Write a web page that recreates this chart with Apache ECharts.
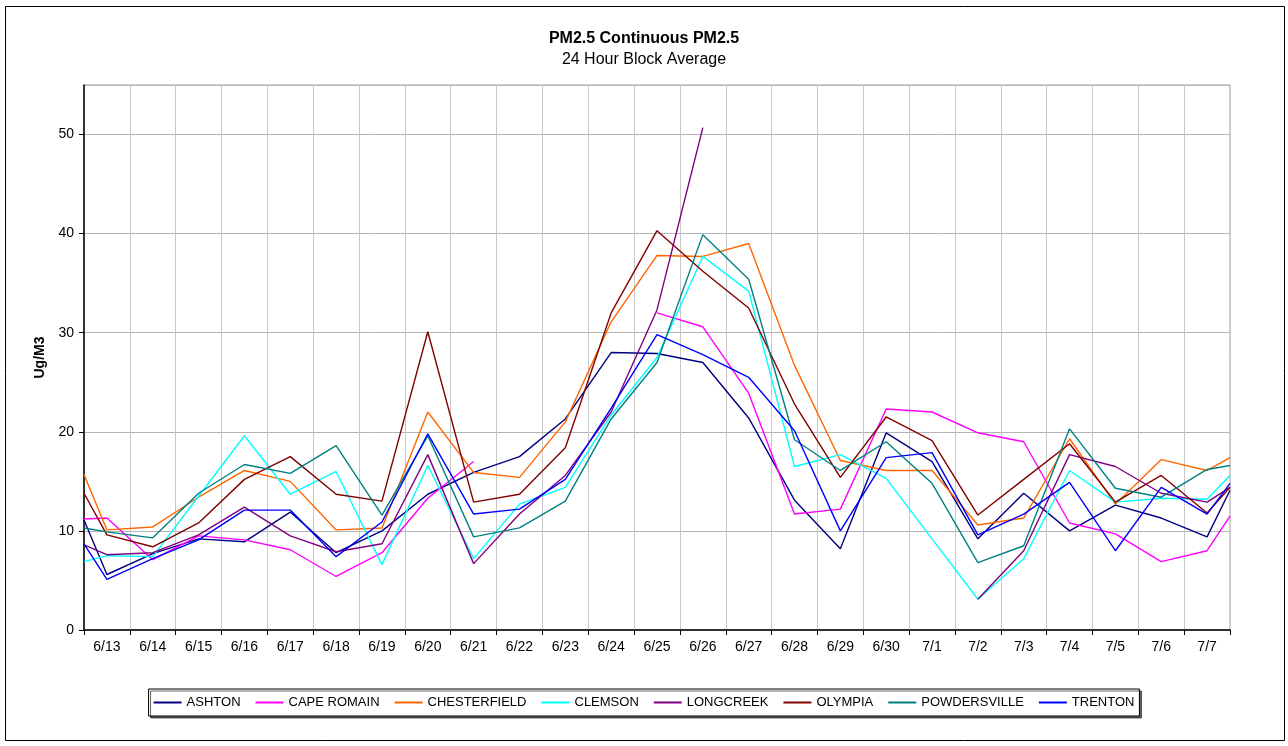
<!DOCTYPE html>
<html>
<head>
<meta charset="utf-8">
<script src="https://cdn.jsdelivr.net/npm/echarts@6/dist/echarts.min.js"></script>
<style>
  html, body { margin: 0; padding: 0; background: #fff; }
  #chart { width: 1288px; height: 746px; }
</style>
</head>
<body>
<div id="chart"></div>
<script>
// Categories (days)
const categories = ['6/13','6/14','6/15','6/16','6/17','6/18','6/19','6/20','6/21','6/22','6/23','6/24','6/25','6/26','6/27','6/28','6/29','6/30','7/1','7/2','7/3','7/4','7/5','7/6','7/7'];
const yTicks = [0, 10, 20, 30, 40, 50];

// Each series: [left edge value, 6/13 ... 7/7, right edge value]; null = no data
const ashton       = [11.1, 5.6, 7.7, 9.2, 8.9, 11.9, 7.8, 10.0, 13.7, 15.9, 17.5, 21.3, 28.0, 27.9, 27.0, 21.4, 13.1, 8.2, 19.9, 17.0, 9.2, 13.8, 10.0, 12.6, 11.3, 9.4, 14.1];
const capeRomain   = [11.2, 11.3, 7.1, 9.5, 9.1, 8.1, 5.4, 7.8, 13.3, 17.0, null, null, null, 32.0, 30.6, 23.9, 11.7, 12.2, 22.3, 22.0, 19.9, 19.0, 10.8, 9.7, 6.9, 8.0, 11.5];
const chesterfield = [15.7, 10.1, 10.4, 13.4, 16.1, 15.0, 10.1, 10.3, 22.0, 15.9, 15.4, 21.0, 31.1, 37.8, 37.7, 39.0, 26.7, 17.1, 16.1, 16.1, 10.6, 11.3, 19.3, 12.7, 17.2, 16.1, 17.4];
const clemson      = [6.9, 7.5, 7.4, 13.5, 19.6, 13.7, 16.0, 6.6, 16.6, 7.2, 12.7, 14.4, 21.7, 27.5, 37.7, 34.2, 16.5, 17.7, 15.3, 9.2, 3.1, 7.2, 16.1, 12.9, 13.3, 13.2, 15.6];
const longcreek    = [8.6, 7.6, 7.8, 9.6, 12.4, 9.5, 7.9, 8.7, 17.7, 6.7, 11.7, 15.6, 22.0, 32.3, 50.7, null, null, null, null, null, 3.1, 8.0, 17.7, 16.5, 13.8, 12.9, 14.4];
const olympia      = [13.8, 9.6, 8.4, 10.8, 15.2, 17.5, 13.7, 13.0, 30.1, 12.9, 13.7, 18.4, 32.0, 40.3, 36.2, 32.5, 22.8, 15.4, 21.5, 19.1, 11.6, 15.2, 18.8, 12.9, 15.6, 11.8, 14.4];
const powdersville = [10.3, 9.9, 9.3, 13.8, 16.7, 15.8, 18.6, 11.6, 19.6, 9.4, 10.3, 13.0, 21.3, 27.0, 39.9, 35.4, 19.2, 16.1, 19.0, 14.8, 6.8, 8.5, 20.3, 14.3, 13.4, 16.2, 16.6];
const trenton      = [8.7, 5.1, 7.2, 9.1, 12.1, 12.1, 7.4, 10.9, 19.8, 11.7, 12.2, 15.2, 22.4, 29.8, 27.8, 25.5, 20.1, 10.0, 17.4, 17.9, 9.6, 11.7, 14.9, 8.0, 14.4, 11.7, 14.8];

const seriesNames  = ['ASHTON','CAPE ROMAIN','CHESTERFIELD','CLEMSON','LONGCREEK','OLYMPIA','POWDERSVILLE','TRENTON'];
const seriesValues = [ashton, capeRomain, chesterfield, clemson, longcreek, olympia, powdersville, trenton];
const seriesColors = ['#000080','#FF00FF','#FF6600','#00FFFF','#800080','#800000','#008080','#0000FF'];

// x positions: left plot edge, each category centre, right plot edge
const positions = [-0.5].concat(categories.map((c, i) => i), [categories.length - 0.5]);

const chart = echarts.init(document.getElementById('chart'));
const font = 'Liberation Sans, Arial, sans-serif';

const option = {
  animation: false,
  backgroundColor: '#fff',
  textStyle: { fontFamily: font },
  graphic: [{
    type: 'rect', left: 5, top: 6, z: -10, silent: true,
    shape: { width: 1279, height: 734 },
    style: { fill: '#fff', stroke: '#000', lineWidth: 1 }
  }],
  title: {
    text: 'PM2.5 Continuous PM2.5',
    subtext: '24 Hour Block Average',
    left: 'center', top: 26, itemGap: 5,
    textStyle: { fontFamily: font, fontSize: 16, fontWeight: 'bold', color: '#000' },
    subtextStyle: { fontFamily: font, fontSize: 16, color: '#000' }
  },
  legend: {
    data: seriesNames,
    left: 'center', top: 689,
    icon: 'rect', itemWidth: 28, itemHeight: 2, itemGap: 15,
    padding: [7, 5],
    backgroundColor: '#fff', borderColor: '#000', borderWidth: 1,
    shadowColor: 'rgba(0,0,0,0.6)', shadowBlur: 0, shadowOffsetX: 2, shadowOffsetY: 2,
    textStyle: { fontFamily: font, fontSize: 13, color: '#000' }
  },
  grid: {
    left: 84, right: 58, top: 85, bottom: 116,
    show: true, borderColor: '#a0a0a0', borderWidth: 1, backgroundColor: '#fff'
  },
  xAxis: [{
    type: 'category', data: categories, boundaryGap: true,
    axisLine: { lineStyle: { color: '#000', width: 1.5 } },
    axisTick: { show: true, length: 5, lineStyle: { color: '#000' } },
    axisLabel: { fontFamily: font, fontSize: 14, color: '#000', margin: 10, interval: 0 },
    splitLine: { show: true, lineStyle: { color: '#c8c8c8', width: 1 } }
  }, {
    type: 'value', min: -0.5, max: categories.length - 0.5, show: false
  }],
  yAxis: {
    type: 'value', min: 0, max: 55, interval: 10,
    name: 'Ug/M3', nameLocation: 'middle', nameGap: 36, nameRotate: 90,
    nameTextStyle: { fontFamily: font, fontSize: 14, fontWeight: 'bold', color: '#000' },
    axisLine: { show: true, onZero: false, lineStyle: { color: '#000', width: 1.5 } },
    axisTick: { show: true, length: 5, lineStyle: { color: '#000' } },
    axisLabel: { fontFamily: font, fontSize: 14, color: '#000', margin: 10, showMaxLabel: false,
      formatter: v => yTicks.includes(v) ? String(v) : '' },
    splitLine: { show: true, lineStyle: { color: '#b4b4b4', width: 1 } }
  },
  series: seriesNames.map((name, s) => ({
    name: name, type: 'line', xAxisIndex: 1,
    symbol: 'none', connectNulls: false,
    color: seriesColors[s],
    lineStyle: { width: 1.4, color: seriesColors[s] },
    data: positions.map((x, i) => [x, seriesValues[s][i] == null ? '-' : seriesValues[s][i]])
  }))
};
chart.setOption(option);
</script>
</body>
</html>
